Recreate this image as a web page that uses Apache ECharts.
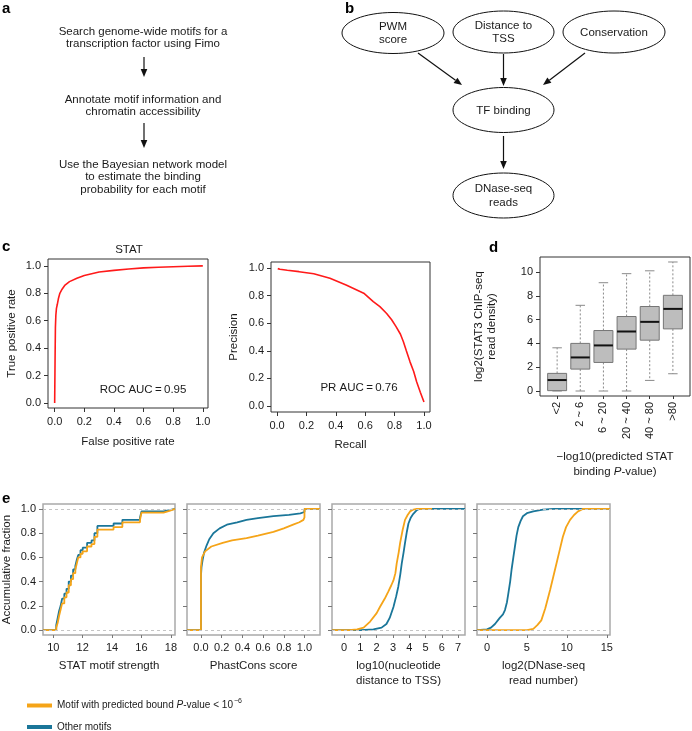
<!DOCTYPE html>
<html><head><meta charset="utf-8">
<script src="https://cdn.jsdelivr.net/npm/echarts@6/dist/echarts.min.js"></script>
<style>html,body{margin:0;padding:0;background:#fff}#c{width:692px;height:731px}</style>
</head><body><div id="c"></div>
<script>
const FONT = '"Liberation Sans", Arial, Helvetica, sans-serif';
const TXT = '#1a1a1a';
const ORANGE = '#F5A418';
const BLUE = '#1A7699';

// ---------- panel a : workflow ----------
const flowSteps = [
  ['Search genome-wide motifs for a', 'transcription factor using Fimo'],
  ['Annotate motif information and', 'chromatin accessibility'],
  ['Use the Bayesian network model', 'to estimate the binding', 'probability for each motif']
];
// ---------- panel b : network ----------
const networkNodes = ['PWM\nscore', 'Distance to\nTSS', 'Conservation', 'TF binding', 'DNase-seq\nreads'];

// ---------- panel c ----------
const rocFpr = [0, 0.001, 0.003, 0.005, 0.008, 0.012, 0.018, 0.025, 0.035, 0.05, 0.07, 0.1, 0.15, 0.2, 0.3, 0.4, 0.5, 0.6, 0.7, 0.8, 0.9, 1.0];
const rocTpr = [0, 0.12, 0.35, 0.55, 0.64, 0.69, 0.72, 0.76, 0.8, 0.83, 0.86, 0.885, 0.91, 0.93, 0.955, 0.967, 0.977, 0.985, 0.99, 0.994, 0.997, 1.0];
const prRecall = [0.005, 0.02, 0.07, 0.15, 0.25, 0.36, 0.47, 0.59, 0.655, 0.7, 0.746, 0.78, 0.81, 0.84, 0.86, 0.88, 0.905, 0.93, 0.95, 0.975, 1.0];
const prPrecision = [0.995, 0.99, 0.983, 0.973, 0.958, 0.925, 0.877, 0.817, 0.756, 0.72, 0.67, 0.625, 0.575, 0.52, 0.466, 0.4, 0.32, 0.25, 0.176, 0.1, 0.03];
const unitTicks = [0, 0.2, 0.4, 0.6, 0.8, 1.0];
const rocAucText = 'ROC AUC\u2009=\u20090.95';
const prAucText = 'PR AUC\u2009=\u20090.76';

// ---------- panel d ----------
const pvalBins = ['<2', '2 ~ 6', '6 ~ 20', '20 ~ 40', '40 ~ 80', '>80'];
const boxLow  = [0, 0, 0, 0, 0.89, 1.45];
const boxQ1   = [0.03, 1.84, 2.4, 3.52, 4.27, 5.22];
const boxMed  = [0.92, 2.82, 3.83, 5.0, 5.81, 6.9];
const boxQ3   = [1.48, 4.0, 5.08, 6.26, 7.1, 8.04];
const boxHigh = [3.63, 7.2, 9.1, 9.86, 10.1, 10.84];
const densityTicks = [0, 2, 4, 6, 8, 10];

// ---------- panel e ----------
const fractionTicks = [0, 0.2, 0.4, 0.6, 0.8, 1.0];
const strengthTicks = [10, 12, 14, 16, 18];
const phastTicks = [0, 0.2, 0.4, 0.6, 0.8, 1.0];
const distTicks = [0, 1, 2, 3, 4, 5, 6, 7];
const dnaseTicks = [0, 5, 10, 15];

const strengthOtherX = [9.3, 10.2, 10.3, 10.4, 10.5, 10.6, 10.75, 10.9, 11.05, 11.2, 11.35, 11.5, 11.6, 11.7, 11.85, 12.0, 12.3, 12.6, 12.8, 13.0, 14.1, 14.7, 15.9, 16.0, 17.5, 17.9, 18.28];
const strengthOtherY = [0, 0.04, 0.1, 0.16, 0.2, 0.26, 0.3, 0.34, 0.4, 0.45, 0.5, 0.53, 0.58, 0.62, 0.66, 0.68, 0.72, 0.74, 0.8, 0.86, 0.88, 0.91, 0.93, 0.98, 0.99, 1.0, 1.0];
const strengthBoundX = [9.3, 10.2, 10.3, 10.4, 10.5, 10.6, 10.75, 10.9, 11.05, 11.2, 11.35, 11.5, 11.6, 11.7, 11.85, 12.0, 12.3, 12.6, 12.8, 13.0, 14.1, 14.7, 15.9, 16.0, 17.5, 17.9, 18.28];
const strengthBoundY = [0, 0.02, 0.06, 0.12, 0.17, 0.22, 0.27, 0.31, 0.37, 0.42, 0.47, 0.5, 0.55, 0.6, 0.63, 0.65, 0.69, 0.71, 0.77, 0.83, 0.85, 0.89, 0.91, 0.97, 0.985, 1.0, 1.0];

const phastOtherX = [-0.135, 0, 0, 0.005, 0.016, 0.03, 0.055, 0.08, 0.12, 0.18, 0.25, 0.35, 0.44, 0.55, 0.7, 0.85, 0.96, 1.0, 1.0, 1.15];
const phastOtherY = [0, 0, 0.45, 0.52, 0.58, 0.64, 0.70, 0.75, 0.80, 0.84, 0.87, 0.89, 0.91, 0.925, 0.94, 0.952, 0.964, 0.975, 1.0, 1.0];
const phastBoundX = [-0.135, 0, 0, 0.01, 0.04, 0.1, 0.21, 0.3, 0.44, 0.55, 0.7, 0.8, 0.89, 0.95, 0.99, 1.0, 1.0, 1.15];
const phastBoundY = [0, 0, 0.52, 0.6, 0.65, 0.69, 0.72, 0.74, 0.76, 0.78, 0.81, 0.84, 0.87, 0.89, 0.91, 0.93, 1.0, 1.0];

const distOtherX = [-0.74, 1.0, 1.8, 2.3, 2.6, 2.8, 3.03, 3.2, 3.33, 3.45, 3.54, 3.65, 3.74, 3.85, 3.95, 4.1, 4.25, 4.46, 4.6, 7.42];
const distOtherY = [0, 0, 0.005, 0.02, 0.05, 0.10, 0.19, 0.28, 0.36, 0.46, 0.55, 0.64, 0.72, 0.81, 0.88, 0.93, 0.96, 0.99, 1.0, 1.0];
const distBoundX = [-0.74, 0.3, 0.8, 1.2, 1.6, 2.0, 2.2, 2.5, 2.72, 2.9, 3.03, 3.15, 3.23, 3.35, 3.44, 3.6, 3.74, 3.9, 4.05, 4.25, 4.46, 5.4];
const distBoundY = [0, 0, 0.005, 0.02, 0.07, 0.14, 0.19, 0.26, 0.32, 0.37, 0.41, 0.47, 0.55, 0.64, 0.72, 0.83, 0.91, 0.95, 0.98, 0.995, 1.0, 1.0];

const dnaseOtherX = [-1.25, 0, 0.5, 1.0, 1.6, 2.0, 2.25, 2.5, 2.67, 2.9, 3.08, 3.3, 3.5, 3.7, 3.92, 4.2, 4.5, 5.0, 5.8, 7.0, 8.3, 15.4];
const dnaseOtherY = [0, 0.005, 0.02, 0.05, 0.10, 0.13, 0.165, 0.23, 0.30, 0.40, 0.50, 0.60, 0.69, 0.78, 0.85, 0.9, 0.94, 0.965, 0.98, 0.995, 1.0, 1.0];
const dnaseBoundX = [-1.25, 5.0, 5.8, 6.3, 6.8, 7.3, 7.9, 8.3, 8.7, 9.1, 9.5, 9.9, 10.4, 10.9, 11.4, 12.0, 15.4];
const dnaseBoundY = [0, 0, 0.01, 0.04, 0.08, 0.18, 0.33, 0.44, 0.55, 0.66, 0.77, 0.85, 0.91, 0.95, 0.98, 1.0, 1.0];

const legendOther = 'Other motifs';

// ================= build =================
const zip = (a, b) => a.map((v, i) => [v, b[i]]);
const graphics = [];
function txt(x, y, text, size, extra) {
  graphics.push({
    type: 'text', x: x, y: y, silent: true,
    style: Object.assign({
      text: text, fontSize: size, fontFamily: FONT, fill: TXT,
      align: 'center', verticalAlign: 'middle', textAlign: 'center', textVerticalAlign: 'middle', lineHeight: 13.5
    }, extra || {})
  });
}
function arrow(x1, y1, x2, y2) {
  const a = Math.atan2(y2 - y1, x2 - x1), L = 8, W = 3.3;
  const bx = x2 - L * Math.cos(a), by = y2 - L * Math.sin(a);
  graphics.push({ type: 'line', silent: true, shape: { x1: x1, y1: y1, x2: bx, y2: by }, style: { stroke: '#111', lineWidth: 1.2 } });
  graphics.push({ type: 'polygon', silent: true, shape: { points: [[x2, y2], [bx + W * Math.sin(a), by - W * Math.cos(a)], [bx - W * Math.sin(a), by + W * Math.cos(a)]] }, style: { fill: '#111' } });
}
function ellipse(cx, cy, rx, ry) {
  graphics.push({ type: 'ellipse', silent: true, shape: { cx: cx, cy: cy, rx: rx, ry: ry }, style: { fill: 'none', stroke: '#111', lineWidth: 1 } });
}

// panel letters
[['a', 2, 9], ['b', 345, 9], ['c', 2, 247], ['d', 489, 248], ['e', 2, 499]].forEach(p =>
  txt(p[1], p[2], p[0], 15, { fontWeight: 'bold', align: 'left', textAlign: 'left', fill: '#000' }));

// panel a
const flowY = [[32, 43.5], [100, 111.5], [165, 177, 189.5]];
flowSteps.forEach((lines, i) => lines.forEach((l, j) => txt(143, flowY[i][j], l, 11.5)));
arrow(144, 57, 144, 77);
arrow(144, 123, 144, 148);

// panel b
const nodePos = [[393, 33, 51, 20.5], [503.5, 32, 50.5, 21], [614, 32, 51, 21], [503.5, 110, 50.5, 22.5], [503.5, 195.5, 50.5, 22.5]];
networkNodes.forEach((n, i) => { const p = nodePos[i]; ellipse(p[0], p[1], p[2], p[3]); txt(p[0], p[1] + 0.5, n, 11.5); });
arrow(418, 53, 462, 85);
arrow(503.5, 54, 503.5, 86);
arrow(585, 53, 543, 85);
arrow(503.5, 136, 503.5, 169);

// panel c annotations
txt(129, 250, 'STAT', 11.5);
txt(143, 390, rocAucText, 11.5);
txt(359, 388, prAucText, 11.5);

// ---------- axes helpers ----------
const NAME_SIZE = 11.5;
function xAxis(gi, min, max, ticks, fmt, name, gap, extra) {
  return Object.assign({
    gridIndex: gi, type: 'value', min: min, max: max, position: 'bottom',
    axisLine: { show: false, onZero: false }, splitLine: { show: false },
    axisTick: { show: true, inside: false, length: 4, customValues: ticks, lineStyle: { color: '#333', width: 1 } },
    axisLabel: { customValues: ticks, formatter: fmt, margin: 8, fontSize: 11, color: TXT, fontFamily: FONT, hideOverlap: false, showMinLabel: true, showMaxLabel: true },
    name: name, nameLocation: 'middle', nameGap: gap,
    nameTextStyle: { fontSize: NAME_SIZE, color: TXT, fontFamily: FONT, lineHeight: 15 }
  }, extra || {});
}
function yAxis(gi, min, max, ticks, fmt, name, gap, extra) {
  return Object.assign({
    gridIndex: gi, type: 'value', min: min, max: max, position: 'left',
    axisLine: { show: false, onZero: false }, splitLine: { show: false },
    axisTick: { show: true, inside: false, length: 4, customValues: ticks, lineStyle: { color: '#333', width: 1 } },
    axisLabel: { customValues: ticks, formatter: fmt, margin: 7, fontSize: 11, color: TXT, fontFamily: FONT, hideOverlap: false, showMinLabel: true, showMaxLabel: true },
    name: name, nameLocation: 'middle', nameGap: gap, nameRotate: 90,
    nameTextStyle: { fontSize: NAME_SIZE, color: TXT, fontFamily: FONT, lineHeight: 13 }
  }, extra || {});
}
const f1 = v => v.toFixed(1);
const f0 = v => String(Math.round(v));

const eGridBase = { top: 504, height: 131, show: true, borderColor: '#a9a9a9', borderWidth: 1.5, outerBoundsMode: 'none' };
const grids = [
  { left: 48, top: 259, width: 160, height: 149, show: true, borderColor: '#333', borderWidth: 1, outerBoundsMode: 'none' },
  { left: 271, top: 262, width: 159, height: 150, show: true, borderColor: '#333', borderWidth: 1, outerBoundsMode: 'none' },
  { left: 540, top: 257, width: 150, height: 139, show: true, borderColor: '#333', borderWidth: 1, outerBoundsMode: 'none' },
  Object.assign({ left: 43, width: 132 }, eGridBase),
  Object.assign({ left: 187, width: 133 }, eGridBase),
  Object.assign({ left: 332, width: 133 }, eGridBase),
  Object.assign({ left: 477, width: 133 }, eGridBase)
];

const eTick = { show: true, inside: false, length: 4, lineStyle: { color: '#777', width: 1 } };
const xAxes = [
  xAxis(0, -0.045, 1.035, unitTicks, f1, 'False positive rate', 26),
  xAxis(1, -0.041, 1.041, unitTicks, f1, 'Recall', 25),
  xAxis(2, 0.26, 6.74, [1, 2, 3, 4, 5, 6], v => pvalBins[Math.round(v) - 1], '{n|\u2212log10(predicted STAT}\n{n|binding }{i|P}{n|-value)}', 53),
  xAxis(3, 9.3, 18.28, strengthTicks, f0, 'STAT motif strength', 23),
  xAxis(4, -0.135, 1.15, phastTicks, f1, 'PhastCons score', 23),
  xAxis(5, -0.74, 7.42, distTicks, f0, 'log10(nucleotide\ndistance to TSS)', 23),
  xAxis(6, -1.25, 15.4, dnaseTicks, f0, 'log2(DNase-seq\nread number)', 23)
];
xAxes[2].axisLabel.rotate = 90;
xAxes[2].axisLabel.margin = 6;
xAxes[2].axisTick.length = 3;
xAxes[2].nameTextStyle.rich = {
  n: { fontSize: NAME_SIZE, color: TXT, fontFamily: FONT, lineHeight: 15 },
  i: { fontSize: NAME_SIZE, color: TXT, fontFamily: FONT, fontStyle: 'italic', lineHeight: 15 }
};
for (let k = 3; k < 7; k++) { xAxes[k].axisTick = Object.assign({ customValues: xAxes[k].axisLabel.customValues }, eTick, { length: 3 }); xAxes[k].axisLabel.margin = 7; }

const yAxes = [
  yAxis(0, -0.036, 1.05, unitTicks, f1, 'True positive rate', 30),
  yAxis(1, -0.043, 1.043, unitTicks, f1, 'Precision', 31),
  yAxis(2, -0.42, 11.26, densityTicks, f0, 'log2(STAT3 ChIP-seq\nread density)', 42),
  yAxis(3, -0.041, 1.041, fractionTicks, f1, 'Accumulative fraction', 30),
  yAxis(4, -0.041, 1.041, fractionTicks, f1, '', 0),
  yAxis(5, -0.041, 1.041, fractionTicks, f1, '', 0),
  yAxis(6, -0.041, 1.041, fractionTicks, f1, '', 0)
];
for (let k = 3; k < 7; k++) { yAxes[k].axisTick = Object.assign({ customValues: fractionTicks }, eTick); }
for (let k = 4; k < 7; k++) { yAxes[k].axisLabel.show = false; }

// ---------- series ----------
const series = [];
series.push({ type: 'line', xAxisIndex: 0, yAxisIndex: 0, data: zip(rocFpr, rocTpr), showSymbol: false, symbol: 'none', silent: true, lineStyle: { color: '#ff1a1a', width: 1.6 } });
series.push({ type: 'line', xAxisIndex: 1, yAxisIndex: 1, data: zip(prRecall, prPrecision), showSymbol: false, symbol: 'none', silent: true, lineStyle: { color: '#ff1a1a', width: 1.6 } });

function renderBox(params, api) {
  const x = api.value(0);
  const lo = api.coord([x, api.value(1)]);
  const q1 = api.coord([x, api.value(2)]);
  const md = api.coord([x, api.value(3)]);
  const q3 = api.coord([x, api.value(4)]);
  const hi = api.coord([x, api.value(5)]);
  const bw = api.size([0.82, 0])[0];
  const cw = api.size([0.41, 0])[0];
  const cx = lo[0];
  const whisk = { stroke: '#8a8a8a', lineWidth: 1, lineDash: [2, 2] };
  const cap = { stroke: '#8a8a8a', lineWidth: 1 };
  return { type: 'group', children: [
    { type: 'line', shape: { x1: cx, y1: q3[1], x2: cx, y2: hi[1] }, style: whisk },
    { type: 'line', shape: { x1: cx, y1: q1[1], x2: cx, y2: lo[1] }, style: whisk },
    { type: 'line', shape: { x1: cx - cw / 2, y1: hi[1], x2: cx + cw / 2, y2: hi[1] }, style: cap },
    { type: 'line', shape: { x1: cx - cw / 2, y1: lo[1], x2: cx + cw / 2, y2: lo[1] }, style: cap },
    { type: 'rect', shape: { x: cx - bw / 2, y: q3[1], width: bw, height: q1[1] - q3[1] }, style: { fill: '#bdbdbd', stroke: '#767676', lineWidth: 1 } },
    { type: 'line', shape: { x1: cx - bw / 2, y1: md[1], x2: cx + bw / 2, y2: md[1] }, style: { stroke: '#111', lineWidth: 2 } }
  ] };
}
series.push({
  type: 'custom', xAxisIndex: 2, yAxisIndex: 2, silent: true, renderItem: renderBox,
  encode: { x: 0, y: [1, 2, 3, 4, 5] },
  data: pvalBins.map((b, i) => [i + 1, boxLow[i], boxQ1[i], boxMed[i], boxQ3[i], boxHigh[i]])
});

const ePanels = [
  [strengthOtherX, strengthOtherY, strengthBoundX, strengthBoundY, 'end'],
  [phastOtherX, phastOtherY, phastBoundX, phastBoundY, false],
  [distOtherX, distOtherY, distBoundX, distBoundY, false],
  [dnaseOtherX, dnaseOtherY, dnaseBoundX, dnaseBoundY, false]
];
ePanels.forEach((p, k) => {
  const gi = 3 + k;
  series.push({
    type: 'line', name: 'other', xAxisIndex: gi, yAxisIndex: gi, data: zip(p[0], p[1]), step: p[4],
    showSymbol: false, symbol: 'none', silent: true, color: BLUE, itemStyle: { color: BLUE },
    lineStyle: { color: BLUE, width: 1.8 },
    markLine: { silent: true, symbol: ['none', 'none'], label: { show: false }, animation: false,
      lineStyle: { color: '#c4c4c4', type: [3, 3], width: 1 }, data: [{ yAxis: 0 }, { yAxis: 1 }] }
  });
  series.push({
    type: 'line', name: 'bound', xAxisIndex: gi, yAxisIndex: gi, data: zip(p[2], p[3]), step: p[4],
    showSymbol: false, symbol: 'none', silent: true, color: ORANGE, itemStyle: { color: ORANGE },
    lineStyle: { color: ORANGE, width: 1.8 }
  });
});

const legendText = {
  fontSize: 10, color: TXT, fontFamily: FONT,
  rich: {
    t: { fontSize: 10, color: TXT, fontFamily: FONT },
    i: { fontSize: 10, color: TXT, fontFamily: FONT, fontStyle: 'italic' },
    s: { fontSize: 7, color: TXT, fontFamily: FONT, padding: [0, 0, 8, 1] }
  }
};
const legendFmt = n => n === 'bound'
  ? '{t|Motif with predicted bound }{i|P}{t|-value < 10}{s|\u22126}'
  : '{t|' + legendOther + '}';
const legendBase = { orient: 'vertical', left: 27, itemWidth: 25, itemHeight: 4, icon: 'rect', selectedMode: false, formatter: legendFmt, textStyle: legendText, padding: 0 };

const option = {
  animation: false,
  textStyle: { fontFamily: FONT },
  graphic: { elements: graphics },
  legend: [
    Object.assign({ data: ['bound'], top: 698 }, legendBase),
    Object.assign({ data: ['other'], top: 722 }, legendBase)
  ],
  grid: grids,
  xAxis: xAxes,
  yAxis: yAxes,
  series: series
};
const chart = echarts.init(document.getElementById('c'), null, { renderer: 'canvas' });
chart.setOption(option);
</script>
</body></html>
